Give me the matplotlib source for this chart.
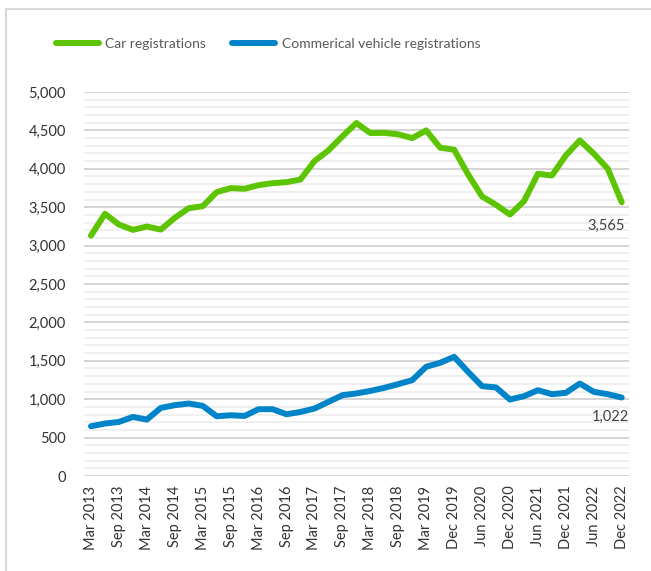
import matplotlib
matplotlib.use("Agg")
import matplotlib.pyplot as plt
from matplotlib.patches import Rectangle
from matplotlib.ticker import MultipleLocator, FuncFormatter

plt.rcParams['font.family'] = ['Lato', 'DejaVu Sans']

quarters = ([f"{m} {y}" for y in range(2013, 2019) for m in ("Mar", "Jun", "Sep", "Dec")]
            + ["Mar 2019", "Sep 2019", "Dec 2019"]
            + [f"{m} {y}" for y in range(2020, 2023) for m in ("Mar", "Jun", "Sep", "Dec")])

car = [3130, 3414, 3274, 3205, 3248, 3209, 3361, 3487, 3513, 3696,
       3748, 3740, 3787, 3813, 3826, 3861, 4100, 4240, 4422, 4596,
       4466, 4468, 4449, 4400, 4500, 4275, 4249, 3927, 3640, 3531,
       3404, 3578, 3935, 3913, 4174, 4370, 4197, 4001, 3565]

commercial = [648, 683, 704, 769, 735, 887, 922, 944, 913, 778,
              791, 782, 870, 870, 804, 834, 878, 965, 1052, 1075,
              1108, 1148, 1196, 1248, 1422, 1474, 1552, 1356, 1170, 1153,
              996, 1039, 1117, 1065, 1083, 1204, 1096, 1065, 1022]

series_names = ["Car registrations", "Commerical vehicle registrations"]
colors = ["#5CC400", "#0084C9"]

W, H = 651, 571
fig = plt.figure(figsize=(W / 100, H / 100), dpi=100)
fig.patch.set_facecolor("white")

# outer frame
fig.add_artist(Rectangle((6 / W, -0.1), 1.0, (H - 9) / H + 0.1, transform=fig.transFigure,
                         fill=False, edgecolor="#D9D9D9", linewidth=1.5))

left, right, top, bottom = 84, 628.7, 92, 476
ax = fig.add_axes([left / W, 1 - bottom / H, (right - left) / W, (bottom - top) / H])

x = list(range(len(quarters)))
for vals, name, c in zip([car, commercial], series_names, colors):
    ax.plot(x, vals, color=c, linewidth=4.3, solid_capstyle="round",
            solid_joinstyle="round", label=name, zorder=3)

ax.set_xlim(-0.5, len(quarters) - 0.5)
ax.set_ylim(0, 5000)
ax.yaxis.set_major_locator(MultipleLocator(500))
ax.yaxis.set_minor_locator(MultipleLocator(100))
ax.yaxis.set_major_formatter(FuncFormatter(lambda v, p: f"{int(v):,}"))
ax.grid(True, which="major", axis="y", color="#D4D4D4", linewidth=1.4, zorder=0)
ax.grid(True, which="minor", axis="y", color="#EFEFEF", linewidth=1.4, zorder=0)
ax.set_axisbelow(True)

ax.set_xticks(x[::2])
ax.set_xticklabels(quarters[::2], rotation=90, fontsize=10.5, color="#333333")
ax.tick_params(axis="x", length=0, pad=7)
ax.tick_params(axis="y", which="both", length=0, pad=13, labelsize=10.5, labelcolor="#333333")
for s in ax.spines.values():
    s.set_visible(False)

# data labels on last points
ax.annotate(f"{car[-1]:,}", (x[-1], car[-1]), xytext=(2, -12), textcoords="offset points",
            ha="right", va="top", fontsize=10.5, color="#404040")
ax.annotate(f"{commercial[-1]:,}", (x[-1], commercial[-1]), xytext=(5, -9), textcoords="offset points",
            ha="right", va="top", fontsize=10.5, color="#404040")

fig.legend(loc="center", bbox_to_anchor=(268 / W, 1 - 44 / H), ncol=2, frameon=False,
           fontsize=10, handlelength=3.1, handletextpad=0.45, columnspacing=1.9,
           labelcolor="#595959")

fig.savefig("out.png", dpi=100, facecolor="white")
